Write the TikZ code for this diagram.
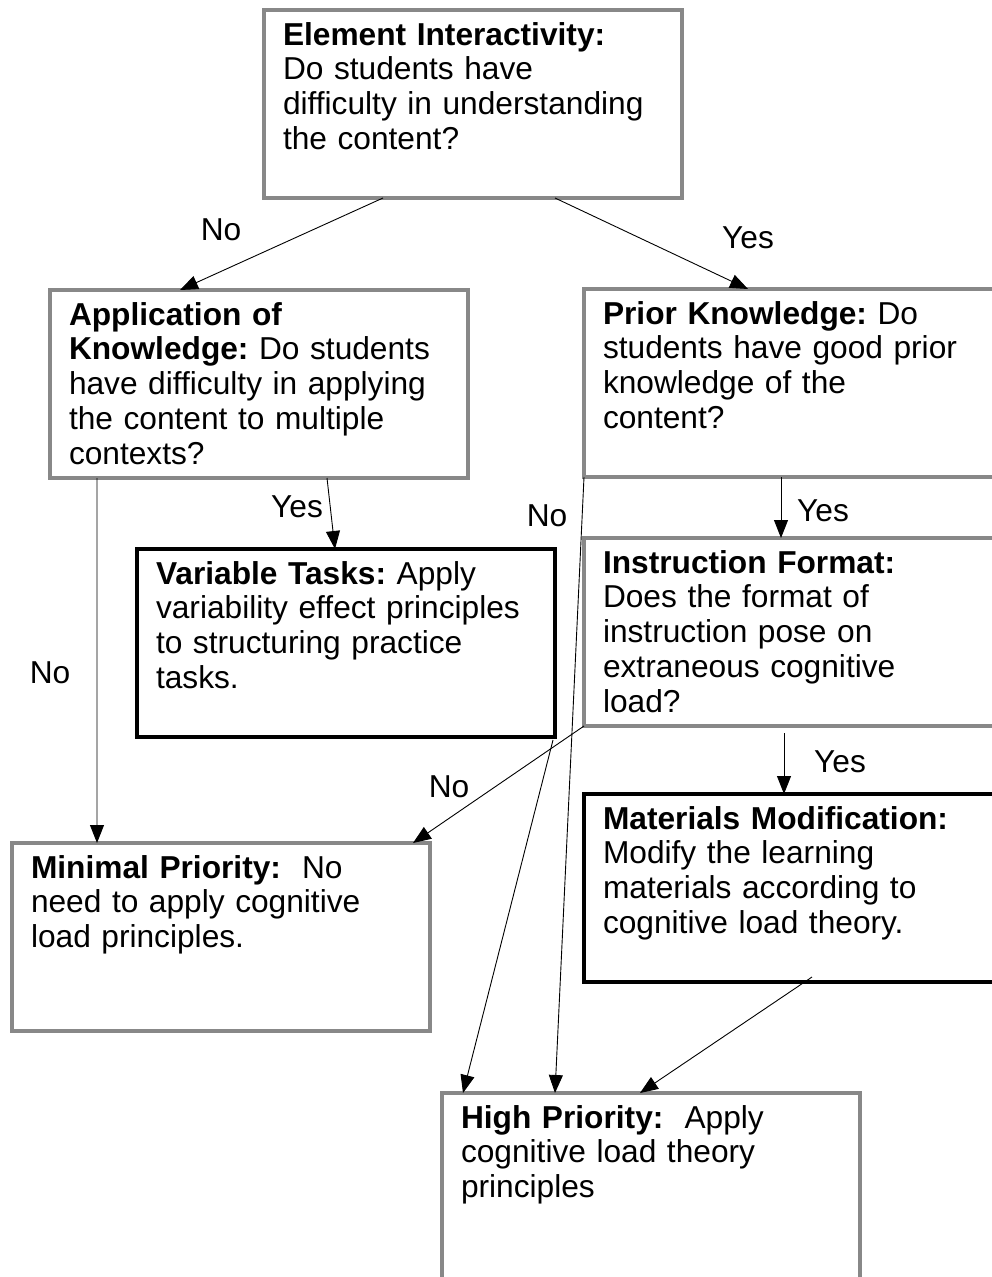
\documentclass[tikz,border=0pt]{standalone}
\usepackage{fontspec}
\setmainfont{Liberation Sans}
\usetikzlibrary{arrows.meta}
\definecolor{boxgray}{HTML}{888888}
\frenchspacing

\begin{document}
\begin{tikzpicture}
[x=1bp, y=-1bp, font=\fontsize{31.8}{35}\selectfont,
 box/.style={draw=boxgray, line width=4bp, outer sep=0bp, anchor=north west, text width=380bp, align=left, inner xsep=19bp, inner ysep=0bp, text height=35bp, text depth=153bp},
 task/.style={box, draw=black},
 arr/.style={line width=0.9bp, -{Triangle[length=18bp,width=14bp]}},
 lbl/.style={inner sep=0bp}]
\useasboundingbox (0,0) rectangle (992,1277);
\node [box] (elem) at (264,10) {\textbf{Element Interactivity:}\\Do students have\\difficulty in understanding\\the content?};
\node [box] (app) at (50,290) {\textbf{Application of}\\\textbf{Knowledge:} Do students\\have difficulty in applying\\the content to multiple\\contexts?};
\node [box] (prior) at (584,289) {\textbf{Prior Knowledge:} Do\\students have good prior\\knowledge of the\\content?};
\node [task] (var) at (137,549) {\textbf{Variable Tasks:} Apply\\variability effect principles\\to structuring practice\\tasks.};
\node [box] (instr) at (584,538) {\textbf{Instruction Format:}\\Does the format of\\instruction pose on\\extraneous cognitive\\load?};
\node [task] (mat) at (584,794) {\textbf{Materials Modification:}\\Modify the learning\\materials according to\\cognitive load theory.};
\node [box] (minp) at (12,843) {\textbf{Minimal Priority:}~ No\\need to apply cognitive\\load principles.};
\node [box] (highp) at (442,1093) {\textbf{High Priority:}~ Apply\\cognitive load theory\\principles};

\draw [arr] ([xshift=119bp]elem.south west) -- ([xshift=130bp]app.north west);
\draw [arr] ([xshift=291bp]elem.south west) -- ([xshift=164bp]prior.north west);
\draw [arr] ([xshift=277bp]app.south west) -- ([xshift=198bp]var.north west);
\draw [arr] ([xshift=47bp]app.south west) -- ([xshift=85bp]minp.north west);
\draw [arr] (prior.south west) -- ([xshift=113bp]highp.north west);
\draw [arr] ([xshift=-2bp,yshift=-3bp]var.south east) -- ([xshift=21bp]highp.north west);
\draw [arr] ([xshift=197bp]prior.south west) -- ([xshift=197bp]instr.north west);
\draw [arr] (instr.south west) -- ([xshift=-17bp]minp.north east);
\draw [arr] ([xshift=200bp,yshift=-7bp]instr.south west) -- ([xshift=200bp]mat.north west);
\draw [arr] ([xshift=228bp,yshift=5bp]mat.south west) -- ([xshift=198bp]highp.north west);

\node [lbl] (noElem) at (221,230) {No};
\node [lbl] (yesElem) at (748,238) {Yes};
\node [lbl] (yesApp) at (297,507) {Yes};
\node [lbl] (noApp) at (50,673) {No};
\node [lbl] (noPrior) at (547,516) {No};
\node [lbl] (yesPrior) at (823,511) {Yes};
\node [lbl] (noInstr) at (449,787) {No};
\node [lbl] (yesInstr) at (840,762) {Yes};
\end{tikzpicture}
\end{document}
